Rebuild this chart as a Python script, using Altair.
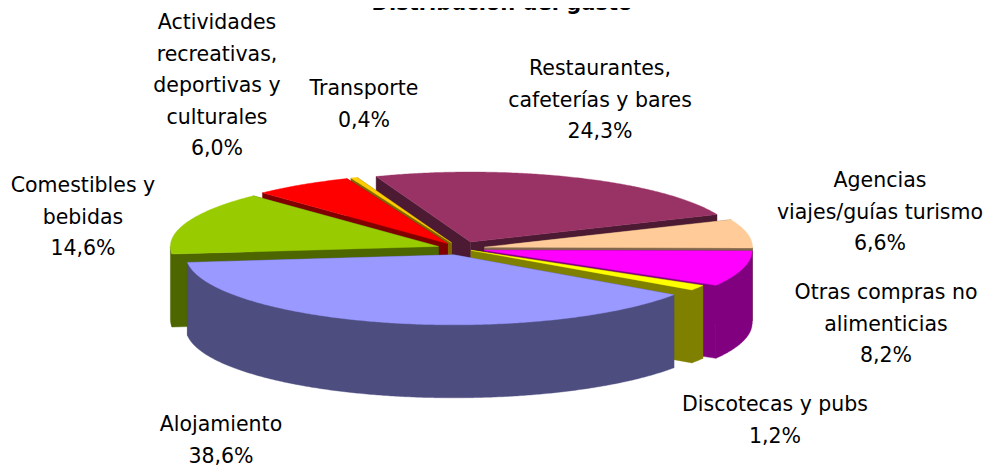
import math
import altair as alt
import pandas as pd

# ---- data ----
names = ["Alojamiento", "Comestibles y\nbebidas", "Actividades\nrecreativas,\ndeportivas y\nculturales",
         "Transporte", "Restaurantes,\ncafeterías y bares", "Agencias\nviajes/guías turismo",
         "Otras compras no\nalimenticias", "Discotecas y pubs"]
shares = [38.6, 14.6, 6.0, 0.4, 24.3, 6.6, 8.2, 1.2]
tops = ["#9999FF", "#99CC00", "#FF0000", "#FFCC00", "#993366", "#FFCC99", "#FF00FF", "#FFFF00"]
sides = ["#4D4D80", "#4D6600", "#800000", "#806600", "#4D1A33", "#80664D", "#800080", "#808000"]
title_text = "Distribución del gasto"

# ---- layout of the tilted pie (page pixels) ----
OFF = 8
CX, CY = 460, 248.5
RX, RY = 268, 70
DEPTH = 73
TILT = RY / RX
START = 34.8
explode = [25, 23, 23, 23, 27, 25, 25, 13]
paint_order = [4, 5, 3, 2, 1, 6, 7, 0]
label_pos = [(221, 425), (83, 186), (217, 23), (364, 89), (600, 69), (880, 181), (886, 293), (775, 405)]
FONT = "DejaVu Sans"
FS = 20.5
LH = 31.5


def rim(c, t):
    r = math.radians(t)
    return (c[0] + RX * math.cos(r), c[1] + RY * math.sin(r))


def feature(points, color):
    ring = [list(p) for p in points] + [list(points[0])]
    return {"type": "Feature", "properties": {"color": color},
            "geometry": {"type": "Polygon", "coordinates": [ring]}}


def down(p):
    return (p[0], p[1] + DEPTH)


def arc(c, t0, t1):
    n = max(2, int(abs(t1 - t0) * 2))
    return [rim(c, t0 + (t1 - t0) * i / n) for i in range(n + 1)]


spans = []
a = START
for s in shares:
    spans.append((a, a + s * 3.6))
    a += s * 3.6

features = []
for i in paint_order:
    t0, t1 = spans[i]
    mid = math.radians((t0 + t1) / 2)
    c = (CX + explode[i] * math.cos(mid), CY + explode[i] * TILT * math.sin(mid))
    for t in (t0, t1):
        e = rim(c, t)
        features.append(feature([c, e, down(e), down(c)], sides[i]))
    # outer wall: only the part that faces the viewer
    for shift in (0, -360):
        w0, w1 = max(t0 + shift, 0), min(t1 + shift, 180)
        if w1 > w0:
            pts = arc(c, w0, w1)
            features.append(feature(pts + [down(p) for p in reversed(pts)], sides[i]))
    features.append(feature([c] + arc(c, t0, t1), tops[i]))

pie = (
    alt.Chart(alt.Data(values=features))
    .mark_geoshape(strokeWidth=0.4)
    .encode(
        fill=alt.Color("properties.color:N", scale=None, legend=None),
        stroke=alt.Color("properties.color:N", scale=None, legend=None),
    )
    .project(type="identity", scale=1, translate=[-OFF, -OFF])
)

layers = [pie]
for name, share, (x, y) in zip(names, shares, label_pos):
    txt = name + "\n" + f"{share:.1f}".replace(".", ",") + "%"
    layers.append(
        alt.Chart(pd.DataFrame({"t": [txt]}))
        .mark_text(font=FONT, fontSize=FS, lineBreak="\n", lineHeight=LH, align="center",
                   baseline="middle", color="#000000")
        .encode(text="t:N", x=alt.value(x - OFF), y=alt.value(y - OFF))
    )
layers.append(
    alt.Chart(pd.DataFrame({"t": [title_text]}))
    .mark_text(font=FONT, fontSize=21, fontWeight="bold", align="center", baseline="alphabetic", color="#000000")
    .encode(text="t:N", x=alt.value(502 - OFF), y=alt.value(1.5))
)

chart = (
    alt.layer(*layers)
    .properties(width=985, height=458, padding=0, background="#FFFFFF",
                autosize=alt.AutoSizeParams(type="none"))
    .configure_view(stroke=None)
)
chart.save("out.html", embed_options={"renderer": "svg", "actions": False})
